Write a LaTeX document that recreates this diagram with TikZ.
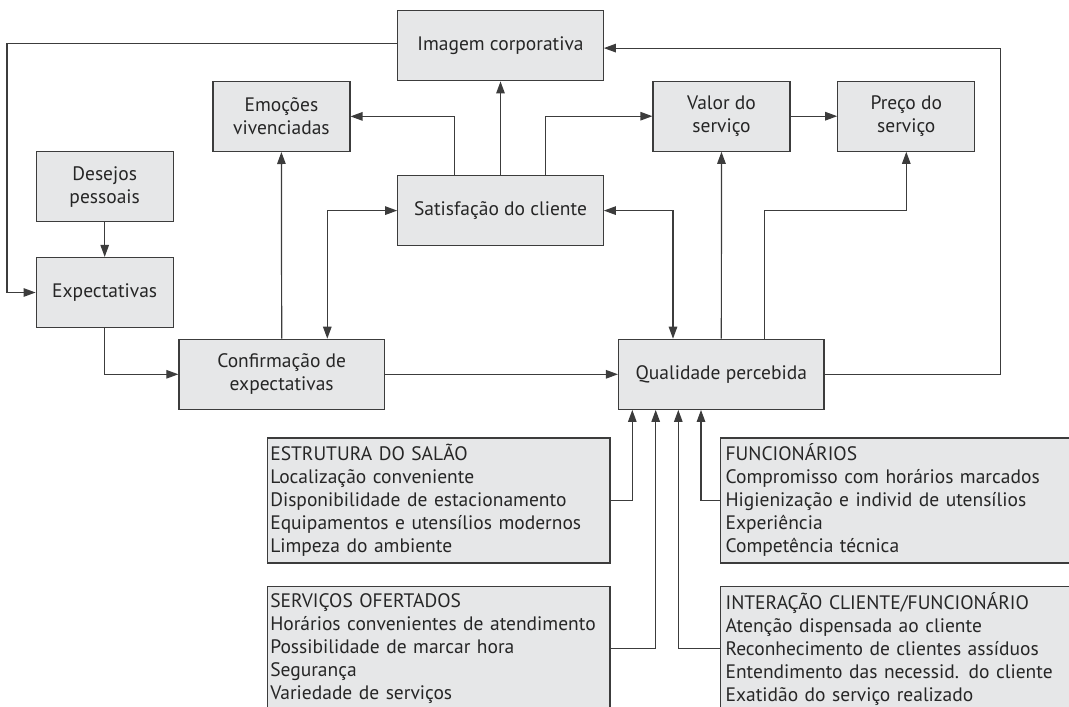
\documentclass[tikz,border=0pt]{standalone}
\usepackage{fontspec}
\setmainfont{PT Sans}
\usepackage{xcolor}
\usetikzlibrary{arrows.meta}
\definecolor{boxgray}{HTML}{E6E7E8}
\definecolor{linegray}{HTML}{3C3C3C}
\tikzset{
  box/.style={draw=linegray,fill=boxgray,line width=1.2pt,minimum width=137pt,minimum height=70pt,
    align=center,inner sep=0pt,font=\fontsize{19.5}{23}\selectfont,text=black!85},
  widebox/.style={box,minimum width=205.5pt},
  listbox/.style={box,align=left,minimum height=125pt,text width=336.6pt,inner xsep=3pt,anchor=north west},
  longbox/.style={listbox,text width=380pt,inner xsep=5pt},
  conn/.style={draw=linegray,line width=1.2pt},
  arr/.style={conn,-{Triangle[length=12pt,width=8.5pt]}},
  arrs/.style={conn,{Triangle[length=12pt,width=8.5pt]}-{Triangle[length=12pt,width=8.5pt]}}
}
\begin{document}
\begin{tikzpicture}[x=1pt,y=-1pt]
    \useasboundingbox (0,0) rectangle (1069,707);
    \clip (0,0) rectangle (1069,707);
    \node[widebox] (imagem) at (500.5,45.8) {Imagem corporativa};
    \node[box] (emocoes) at (281.4,116.4) {Emoções\\vivenciadas};
    \node[box] (desejos) at (104.7,186.8) {Desejos\\pessoais};
    \node[box] (expect) at (104.7,292.5) {Expectativas};
    \node[widebox] (satisf) at (500.5,210.6) {Satisfação do cliente};
    \node[box] (valor) at (721.5,116.2) {Valor do\\serviço};
    \node[box] (preco) at (906.3,116.2) {Preço do\\serviço};
    \node[widebox] (confirm) at (281.7,374.3) {Confirmação de\\expectativas};
    \node[widebox] (qualid) at (721.3,374.3) {Qualidade percebida};
    \node[listbox] (estrutura) at (266.7,437.3) {ESTRUTURA DO SALÃO\\Localização conveniente\\Disponibilidade de estacionamento\\Equipamentos e utensílios modernos\\Limpeza do ambiente};
    \node[listbox] (servicos) at (266.7,585.7) {SERVIÇOS OFERTADOS\\Horários convenientes de atendimento\\Possibilidade de marcar hora\\Segurança\\Variedade de serviços};
    \node[longbox] (funcion) at (720,437.3) {FUNCIONÁRIOS\\Compromisso com horários marcados\\Higienização e individ de utensílios\\Experiência\\Competência técnica};
    \node[longbox] (interac) at (720,585.7) {INTERAÇÃO CLIENTE/FUNCIONÁRIO\\Atenção dispensada ao cliente\\Reconhecimento de clientes assíduos\\Entendimento das necessid. do cliente\\Exatidão do serviço realizado};
    \coordinate (leftrail) at (6.9,43.4);
    \coordinate (rightrail) at (1000.5,48.1);
    \draw[arr] (leftrail -| imagem.west) -- (leftrail) |- (expect.west);
    \draw[arr] (desejos) -- (expect);
    \draw[arr] (expect.south) |- (confirm.west);
    \draw[arr] (confirm.north) -- (emocoes.south);
    \draw[arrs] ([xshift=45.6pt]confirm.north) |- (satisf.west);
    \draw[arr] (satisf) -- (imagem);
    \draw[arr] ([xshift=-46pt]satisf.north) |- (emocoes.east);
    \draw[arr] ([xshift=45.3pt]satisf.north) |- (valor.west);
    \draw[arr] (valor) -- (preco);
    \draw[arrs] (satisf.east) -| ([xshift=-48.3pt]qualid.north);
    \draw[arr] (qualid) -- (valor);
    \draw[arr] ([xshift=43.5pt]qualid.north) |- (preco.south |- satisf.east) -- (preco.south);
    \draw[arr] (confirm) -- (qualid);
    \draw[arr] (qualid.east) -| (rightrail) -- (rightrail -| imagem.east);
    \draw[arr] (estrutura.east) -| ([xshift=-89pt]qualid.south);
    \draw[arr] (servicos.east) -| ([xshift=-65.6pt]qualid.south);
    \draw[arr] (interac.west) -| ([xshift=-43pt]qualid.south);
    \draw[arr] (funcion.west) -| ([xshift=-20.3pt]qualid.south);
\end{tikzpicture}
\end{document}
